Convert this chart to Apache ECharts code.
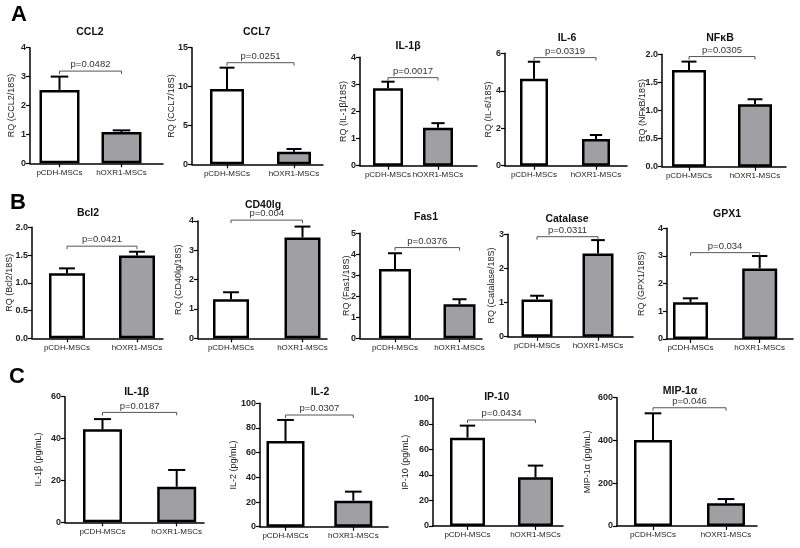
<!DOCTYPE html>
<html>
<head>
<meta charset="utf-8">
<script src="https://cdn.jsdelivr.net/npm/echarts@6/dist/echarts.min.js"></script>
<style>html,body{margin:0;padding:0;background:#fff;}#c{width:800px;height:548px;}</style>
</head>
<body>
<div id="c"></div>
<script>
// ---------------- DATA ----------------
const categories = ['pCDH-MSCs', 'hOXR1-MSCs'];
const panelTitles = ['CCL2', 'CCL7', 'IL-1β', 'IL-6', 'NFκB', 'Bcl2', 'CD40lg', 'Fas1', 'Catalase', 'GPX1', 'IL-1β', 'IL-2', 'IP-10', 'MIP-1α'];
const yAxisNames = ['RQ (CCL2/18S)', 'RQ (CCL7/18S)', 'RQ (IL-1β/18S)', 'RQ (IL-6/18S)', 'RQ (NFκB/18S)',
  'RQ (Bcl2/18S)', 'RQ (CD40lg/18S)', 'RQ (Fas1/18S)', 'RQ (Catalase/18S)', 'RQ (GPX1/18S)',
  'IL-1β (pg/mL)', 'IL-2 (pg/mL)', 'IP-10 (pg/mL)', 'MIP-1α (pg/mL)'];
const meanPCDH = [2.54, 9.69, 2.86, 4.64, 1.72, 1.17, 1.33, 3.30, 1.09, 1.33, 44.4, 69.5, 69.2, 402];
const meanHOXR1 = [1.08, 1.63, 1.40, 1.42, 1.11, 1.49, 3.44, 1.62, 2.44, 2.55, 17.0, 21.1, 38.1, 106];
const errPCDH = [0.46, 2.74, 0.24, 0.91, 0.15, 0.09, 0.24, 0.75, 0.11, 0.14, 4.9, 17.0, 9.4, 125];
const errHOXR1 = [0.06, 0.34, 0.17, 0.22, 0.09, 0.07, 0.37, 0.24, 0.39, 0.45, 8.0, 7.3, 9.2, 20];
const pLabels = ['p=0.0482', 'p=0.0251', 'p=0.0017', 'p=0.0319', 'p=0.0305', 'p=0.0421', 'p=0.004', 'p=0.0376', 'p=0.0311', 'p=0.034', 'p=0.0187', 'p=0.0307', 'p=0.0434', 'p=0.046'];
const bracketLevels = [3.19, 13.07, 3.25, 5.77, 1.96, 1.66, 4.03, 4.32, 2.93, 3.12, 52.5, 90.5, 83, 553];
const yMax = [4, 15, 4, 6, 2, 2, 4, 5, 3, 4, 60, 100, 100, 600];
const yInterval = [1, 5, 1, 2, 0.5, 0.5, 1, 1, 1, 1, 20, 20, 20, 200];
const panelLetters = ['A', 'B', 'C'];

// ---------------- LAYOUT (pixels) ----------------
// [axisLeft, axisRight, top, bottom, center1, center2, barWidth, nameCenterX, titleX, titleY]
const layout = [
  [30, 163, 47.7, 163.3, 59.5, 121.5, 40, 12, 90, 32],
  [192, 323, 47.7, 164.3, 227, 294, 34, 172, 256.7, 32],
  [360, 477, 57.3, 165.7, 388, 438, 30, 344, 408, 46],
  [505, 627, 53.3, 165.7, 534, 596, 28, 489, 567, 37.7],
  [662, 786, 54.3, 166.7, 689, 755, 34, 643, 720, 38.3],
  [32, 163, 227.3, 338.3, 67, 137, 36, 10, 88, 213],
  [198, 327, 221, 338.3, 231, 302.5, 36, 179, 263, 205],
  [360, 482, 233.3, 338.3, 395, 459.5, 32, 347, 426, 217],
  [508, 633, 234.3, 336.7, 537, 598, 31, 492, 567, 219],
  [667, 793, 228.3, 339, 690.5, 759.7, 35, 642, 727, 214],
  [65, 204, 396.7, 522.3, 102.5, 176.7, 39, 39, 136.7, 391.7],
  [260, 388, 403.3, 526.7, 285.5, 353.3, 38, 234, 320, 391.7],
  [433, 563, 398.3, 526, 467.5, 535.5, 35, 406, 496.7, 396.7],
  [617, 757, 397.7, 526, 653, 726, 38, 588, 680, 391]
];
const letterPos = [[19, 15], [18, 203], [17, 377]];

const FONT = '"Liberation Sans", Arial, sans-serif';
const BAR_FILLS = ['#ffffff', '#a0a0a4'];
const NAME_SIZE = 9;

const grids = [], xAxes = [], yAxes = [], series = [], graphics = [];

layout.forEach((lay, i) => {
  const [L, R, T, B, c1, c2, bw, nameX, tx, ty] = lay;
  const d = c2 - c1;
  const xmin = 1 - (c1 - L) / d;
  const xmax = xmin + (R - L) / d;
  grids.push({ left: L, top: T, width: R - L, height: B - T });
  xAxes.push({
    type: 'value', gridIndex: i, min: xmin, max: xmax, interval: 1,
    axisLine: { show: true, lineStyle: { color: '#000', width: 1.5 } },
    axisTick: { show: true, length: 4, customValues: [1, 2], lineStyle: { color: '#000', width: 1.2 } },
    axisLabel: { show: true, customValues: [1, 2], margin: 5, fontSize: 8, color: '#222', fontFamily: FONT,
      showMinLabel: true, showMaxLabel: true, hideOverlap: false,
      formatter: v => categories[Math.round(v) - 1] || '' },
    splitLine: { show: false }
  });
  const decimals = yInterval[i] < 1 ? 1 : 0;
  yAxes.push({
    type: 'value', gridIndex: i, min: 0, max: yMax[i], interval: yInterval[i],
    name: yAxisNames[i], nameLocation: 'middle', nameGap: L - nameX - NAME_SIZE / 2, nameMoveOverlap: false,
    nameTextStyle: { fontSize: NAME_SIZE, color: '#222', fontFamily: FONT },
    axisLine: { show: true, lineStyle: { color: '#000', width: 1.5 } },
    axisTick: { show: true, length: 4, lineStyle: { color: '#000', width: 1.2 } },
    axisLabel: { show: true, margin: 4, fontSize: 9, fontWeight: 'bold', color: '#222', fontFamily: FONT,
      showMinLabel: true, showMaxLabel: true,
      formatter: v => v.toFixed(decimals) },
    splitLine: { show: false }
  });
  const means = [meanPCDH[i], meanHOXR1[i]];
  const errs = [errPCDH[i], errHOXR1[i]];
  series.push({
    type: 'bar', xAxisIndex: i, yAxisIndex: i, barWidth: bw,
    data: means.map((m, k) => ({ value: [k + 1, m], itemStyle: { color: BAR_FILLS[k] } })),
    itemStyle: { borderColor: '#000', borderWidth: 2.5 },
    z: 2
  });
  const capHalf = bw * 0.22;
  series.push({
    type: 'custom', xAxisIndex: i, yAxisIndex: i, z: 3,
    data: means.map((m, k) => [k + 1, m, errs[k]]),
    renderItem: (params, api) => {
      const x = api.value(0), m = api.value(1), e = api.value(2);
      const p0 = api.coord([x, m]);
      const p1 = api.coord([x, m + e]);
      return { type: 'group', children: [
        { type: 'line', shape: { x1: p0[0], y1: p0[1], x2: p1[0], y2: p1[1] }, style: { stroke: '#000', lineWidth: 2 } },
        { type: 'line', shape: { x1: p1[0] - capHalf, y1: p1[1], x2: p1[0] + capHalf, y2: p1[1] }, style: { stroke: '#000', lineWidth: 2 } }
      ] };
    }
  });
  series.push({
    type: 'custom', xAxisIndex: i, yAxisIndex: i, z: 4,
    encode: { x: [0, 1], y: 2 },
    data: [[1, 2, bracketLevels[i]]],
    renderItem: (params, api) => {
      const a = api.coord([api.value(0), api.value(2)]);
      const b = api.coord([api.value(1), api.value(2)]);
      return { type: 'group', children: [
        { type: 'polyline', shape: { points: [[a[0], a[1] + 3], [a[0], a[1]], [b[0], b[1]], [b[0], b[1] + 3]] },
          style: { stroke: '#555', lineWidth: 1, fill: null } },
        { type: 'text', style: { text: pLabels[i], x: (a[0] + b[0]) / 2, y: a[1] - 1.5,
          align: 'center', verticalAlign: 'bottom', textAlign: 'center', textVerticalAlign: 'bottom',
          fontSize: 9.5, fontFamily: FONT, fill: '#333' } }
      ] };
    }
  });
  graphics.push({
    type: 'text', x: tx, y: ty,
    style: { text: panelTitles[i], align: 'center', verticalAlign: 'middle', textAlign: 'center', textVerticalAlign: 'middle',
      fontSize: 10.5, fontWeight: 'bold', fontFamily: FONT, fill: '#111' }
  });
});

panelLetters.forEach((t, k) => {
  graphics.push({
    type: 'text', x: letterPos[k][0], y: letterPos[k][1],
    style: { text: t, align: 'center', verticalAlign: 'middle', textAlign: 'center', textVerticalAlign: 'middle',
      fontSize: 22, fontWeight: 'bold', fontFamily: FONT, fill: '#000' }
  });
});

const chart = echarts.init(document.getElementById('c'), null, { renderer: 'canvas' });
chart.setOption({
  animation: false,
  backgroundColor: '#fff',
  grid: grids,
  xAxis: xAxes,
  yAxis: yAxes,
  series: series,
  graphic: graphics
});
</script>
</body>
</html>
